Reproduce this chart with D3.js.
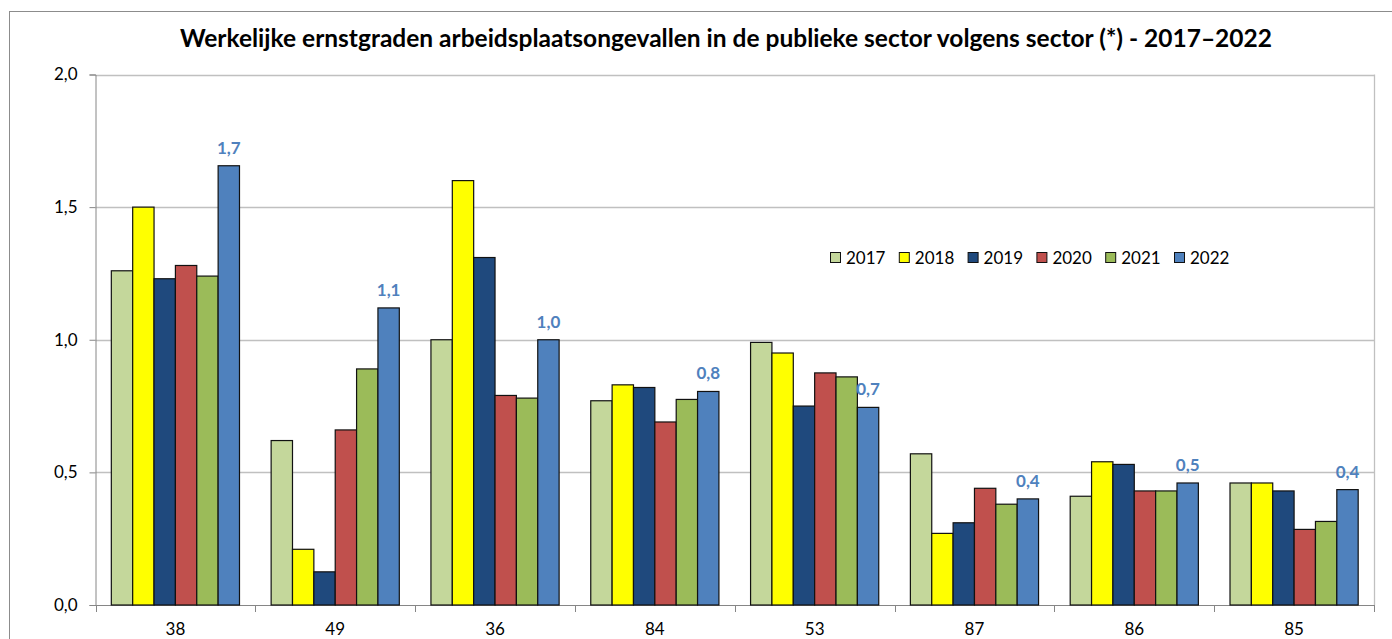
<!DOCTYPE html>
<html>
<head>
<meta charset="utf-8">
<script src="https://cdn.jsdelivr.net/npm/d3@7"></script>
<style>
  html, body { margin: 0; padding: 0; background: #fff; }
  svg { display: block; font-family: Lato, "Open Sans", sans-serif; }
</style>
</head>
<body>
<svg id="chart" width="1392" height="639"></svg>
<script>
const titleText = "Werkelijke ernstgraden arbeidsplaatsongevallen in de publieke sector volgens sector (*) - 2017\u20132022";
const categories = ["38", "49", "36", "84", "53", "87", "86", "85"];
const years = ["2017", "2018", "2019", "2020", "2021", "2022"];
const v2017 = [1.26, 0.62, 1.00, 0.77, 0.99, 0.57, 0.41, 0.46];
const v2018 = [1.50, 0.21, 1.60, 0.83, 0.95, 0.27, 0.54, 0.46];
const v2019 = [1.23, 0.125, 1.31, 0.82, 0.75, 0.31, 0.53, 0.43];
const v2020 = [1.28, 0.66, 0.79, 0.69, 0.875, 0.44, 0.43, 0.285];
const v2021 = [1.24, 0.89, 0.78, 0.775, 0.86, 0.38, 0.43, 0.315];
const v2022 = [1.656, 1.12, 1.00, 0.805, 0.745, 0.40, 0.46, 0.435];
const yTicks = [0, 0.5, 1.0, 1.5, 2.0];
const colors = ["#C4D79B", "#FFFF00", "#1F497D", "#C0504D", "#9BBB59", "#4F81BD"];

const series = [v2017, v2018, v2019, v2020, v2021, v2022];
const svg = d3.select("#chart");

// chart border
svg.append("rect").attr("x", 9.5).attr("y", 11.5).attr("width", 1420).attr("height", 700)
  .attr("fill", "none").attr("stroke", "#8c8c8c").attr("stroke-width", 1);

const plotL = 95.5, plotR = 1374, plotT = 74.5, plotB = 605;

const x0 = d3.scaleBand().domain(categories).range([plotL, plotR]).padding(0);
const bw = x0.bandwidth();
const x1 = d3.scaleBand().domain(years).range([bw * 0.099, bw * 0.901]).padding(0);
const y = d3.scaleLinear().domain([0, 2]).range([plotB, plotT]);
const color = d3.scaleOrdinal().domain(years).range(colors);
const fmt = v => d3.format(".1f")(v).replace(".", ",");

// title
svg.append("text").attr("x", 726).attr("y", 47).attr("text-anchor", "middle")
  .attr("font-weight", "bold").attr("font-size", 24.5).attr("fill", "#000").text(titleText);

// gridlines
svg.append("g").selectAll("line").data(yTicks.filter(d => d > 0)).join("line")
  .attr("x1", plotL).attr("x2", plotR)
  .attr("y1", d => Math.round(y(d)) + 0.5).attr("y2", d => Math.round(y(d)) + 0.5)
  .attr("stroke", "#c0c0c0").attr("stroke-width", 1.3);
// right plot edge
svg.append("line").attr("x1", plotR + 0.5).attr("x2", plotR + 0.5).attr("y1", y(2)).attr("y2", plotB)
  .attr("stroke", "#c0c0c0").attr("stroke-width", 1.3);

// y axis
const yAxis = d3.axisLeft(y).tickValues(yTicks).tickFormat(fmt).tickSize(6).tickPadding(12);
const gy = svg.append("g").attr("transform", `translate(${plotL},0)`).call(yAxis);
gy.select(".domain").attr("stroke", "#868686");
gy.selectAll(".tick line").attr("stroke", "#868686");
gy.selectAll("text").attr("font-size", 17).attr("fill", "#000").attr("font-family", "Lato, sans-serif");

// x axis
const xAxis = d3.axisBottom(x0).tickSize(0).tickPadding(18);
const gx = svg.append("g").attr("transform", `translate(0,${plotB})`).call(xAxis);
gx.select(".domain").attr("stroke", "#868686");
gx.selectAll("text").attr("font-size", 17).attr("fill", "#000").attr("font-family", "Lato, sans-serif");
// category boundary ticks
const bounds = categories.map(c => x0(c)).concat([plotR]);
svg.append("g").selectAll("line").data(bounds).join("line")
  .attr("x1", d => Math.round(d) + 0.5).attr("x2", d => Math.round(d) + 0.5)
  .attr("y1", plotB).attr("y2", plotB + 7).attr("stroke", "#868686");

// bars
const groups = svg.append("g").selectAll("g").data(categories).join("g")
  .attr("transform", c => `translate(${x0(c)},0)`);
groups.selectAll("rect").data((c, i) => years.map((yr, j) => ({ yr, v: series[j][i] }))).join("rect")
  .attr("x", d => x1(d.yr)).attr("width", x1.bandwidth())
  .attr("y", d => y(d.v)).attr("height", d => plotB - y(d.v))
  .attr("fill", d => color(d.yr)).attr("stroke", "#111").attr("stroke-width", 1.2);

// labels on 2022 bars
svg.append("g").selectAll("text").data(categories).join("text")
  .attr("x", (c) => x0(c) + x1("2022") + x1.bandwidth() / 2)
  .attr("y", (c, i) => y(v2022[i]) - 12)
  .attr("text-anchor", "middle").attr("font-weight", "bold").attr("font-size", 17)
  .attr("fill", "#4F81BD").text((c, i) => fmt(v2022[i]));

// legend
const legend = svg.append("g").attr("transform", "translate(830,252)");
const li = legend.selectAll("g").data(years).join("g")
  .attr("transform", (d, i) => `translate(${i * 68.8},0)`);
li.append("rect").attr("x", 0.5).attr("y", 0.5).attr("width", 10).attr("height", 10)
  .attr("fill", d => color(d)).attr("stroke", "#111").attr("stroke-width", 1);
li.append("text").attr("x", 16).attr("y", 11.5).attr("font-size", 17).attr("fill", "#000").text(d => d);
</script>
</body>
</html>
